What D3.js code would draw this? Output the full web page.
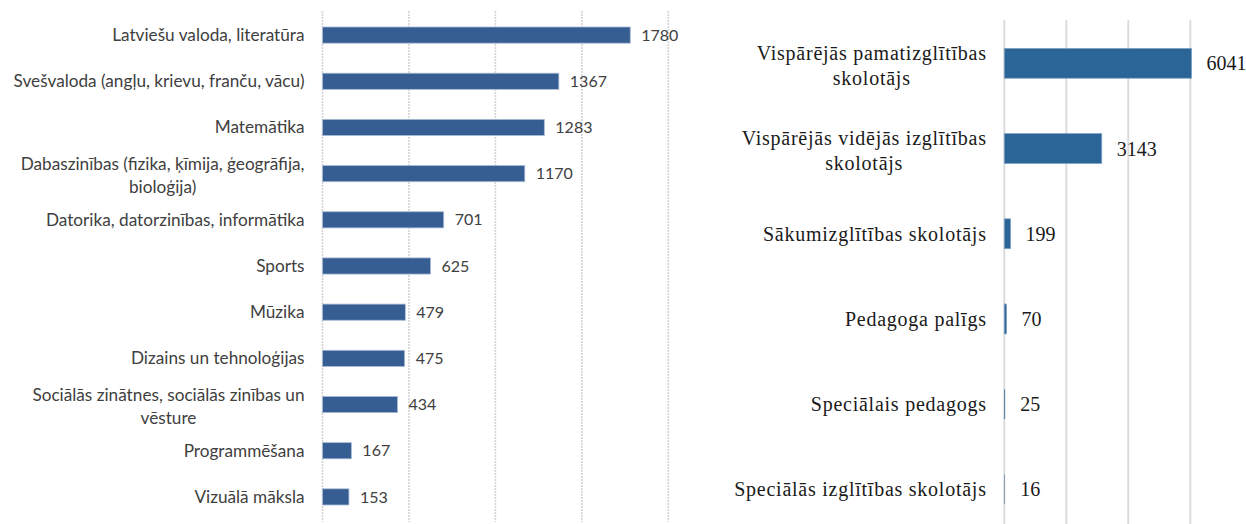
<!DOCTYPE html>
<html><head><meta charset="utf-8">
<script src="https://cdn.jsdelivr.net/npm/d3@7"></script>
<style>
html,body{margin:0;padding:0;background:#fff;overflow:hidden;}
svg{display:block;}
</style></head>
<body>
<svg id="chart" width="1246" height="524"></svg>
<script>
// Left chart data
const leftCategories = [
  "Latviešu valoda, literatūra",
  "Svešvaloda (angļu, krievu, franču, vācu)",
  "Matemātika",
  "Dabaszinības (fizika, ķīmija, ģeogrāfija,\nbioloģija)",
  "Datorika, datorzinības, informātika",
  "Sports",
  "Mūzika",
  "Dizains un tehnoloģijas",
  "Sociālās zinātnes, sociālās zinības un\nvēsture",
  "Programmēšana",
  "Vizuālā māksla"
];
const leftValues = [1780, 1367, 1283, 1170, 701, 625, 479, 475, 434, 167, 153];
const leftTicks = [0, 500, 1000, 1500, 2000];

// Right chart data
const rightCategories = [
  "Vispārējās pamatizglītības\nskolotājs",
  "Vispārējās vidējās izglītības\nskolotājs",
  "Sākumizglītības skolotājs",
  "Pedagoga palīgs",
  "Speciālais pedagogs",
  "Speciālās izglītības skolotājs"
];
const rightValues = [6041, 3143, 199, 70, 25, 16];
const rightTicks = [0, 2000, 4000, 6000, 8000];

const svg = d3.select("#chart");

function drawChart(cfg) {
  const g = svg.append("g");
  const x = d3.scaleLinear().domain(cfg.domain).range([cfg.x0, cfg.x1]);
  const y = d3.scaleBand().domain(cfg.categories).range([cfg.y0, cfg.y1]).paddingInner(cfg.pad).paddingOuter(cfg.pad / 2);

  // gridlines
  g.selectAll("line.grid").data(cfg.ticks).join("line")
    .attr("x1", d => x(d)).attr("x2", d => x(d))
    .attr("y1", cfg.gTop).attr("y2", cfg.gBottom)
    .attr("stroke", cfg.gridColor).attr("stroke-width", cfg.gridWidth)
    .attr("stroke-dasharray", cfg.gridDash);

  // bars
  g.selectAll("rect.bar").data(cfg.values).join("rect")
    .attr("x", x(0))
    .attr("y", (d, i) => y(cfg.categories[i]))
    .attr("width", d => x(d) - x(0))
    .attr("height", y.bandwidth())
    .attr("fill", cfg.barColor)
    .attr("stroke", d => (x(d) - x(0)) > 2 ? cfg.barStroke : "none").attr("stroke-width", 0.8);

  // value labels
  g.selectAll("text.val").data(cfg.values).join("text")
    .attr("x", d => Math.max(x(d), x(0) + 1) + cfg.valOffset)
    .attr("y", (d, i) => y(cfg.categories[i]) + y.bandwidth() / 2)
    .attr("dy", "0.35em")
    .attr("font-family", cfg.font).attr("font-size", cfg.valSize)
    .attr("fill", cfg.textColor)
    .text(d => d);

  // category labels (centered block, right-aligned to labelX)
  cfg.categories.forEach((c, i) => {
    const lines = c.split("\n");
    const cy = y(c) + y.bandwidth() / 2 + (lines.length > 1 ? cfg.multiShift : 0);
    const t = g.append("text")
      .attr("font-family", cfg.font).attr("font-size", cfg.labSize)
      .attr("letter-spacing", cfg.letterSpacing)
      .attr("fill", cfg.textColor);
    const tspans = lines.map((ln, k) => t.append("tspan")
      .attr("y", cy + (k - (lines.length - 1) / 2) * cfg.lineH)
      .attr("dy", "0.35em").text(ln));
    const widths = tspans.map(ts => ts.node().getComputedTextLength());
    const maxW = d3.max(widths);
    tspans.forEach(ts => {
      ts.attr("x", cfg.labelX - maxW / 2).attr("text-anchor", "middle");
    });
  });
}

drawChart({
  categories: leftCategories, values: leftValues, ticks: leftTicks,
  domain: [0, 2000], x0: 322.5, x1: 668.3,
  y0: 12, y1: 520, pad: 0.65,
  gTop: 11, gBottom: 522, gridColor: "#d4d4d4", gridWidth: 1.6, gridDash: "2,1",
  barColor: "#375e92", barStroke: "#a9bcd6",
  valOffset: 11, valSize: 16, labSize: 17.2,
  font: "Lato, 'Open Sans', sans-serif", textColor: "#404040",
  labelX: 304.5, lineH: 23, multiShift: 1.5, letterSpacing: 0
});

drawChart({
  categories: rightCategories, values: rightValues, ticks: rightTicks,
  domain: [0, 8000], x0: 1004.3, x1: 1252.3,
  y0: 20.7, y1: 532, pad: 0.65,
  gTop: 20, gBottom: 524, gridColor: "#dcdcdc", gridWidth: 2, gridDash: null,
  barColor: "#2b6496", barStroke: "#7fa2c4",
  valOffset: 15, valSize: 20, labSize: 20,
  font: "'Liberation Serif', 'Times New Roman', serif", textColor: "#1a1a1a",
  labelX: 986.7, lineH: 25, multiShift: 2, letterSpacing: 0.75
});
</script>
</body></html>
